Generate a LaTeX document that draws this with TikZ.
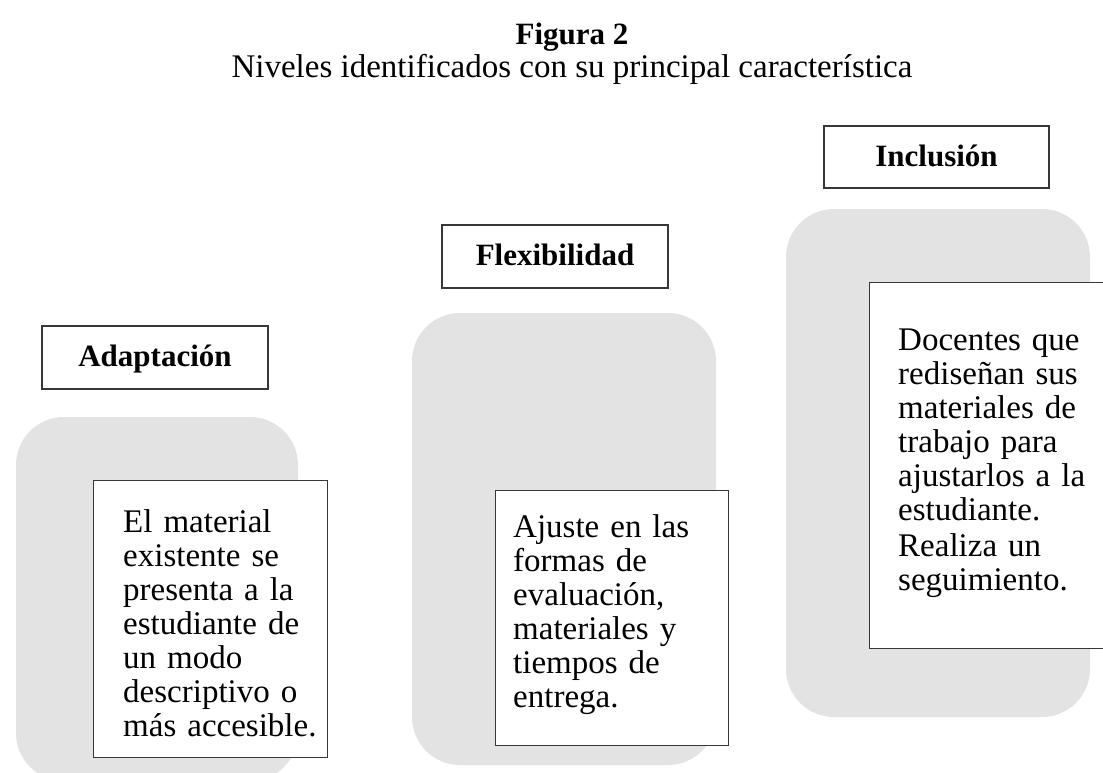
\documentclass[tikz,border=0pt]{standalone}
\usepackage{fontspec}
\setmainfont{Liberation Serif}
\definecolor{bg}{RGB}{227,227,227}
\definecolor{edge}{RGB}{55,55,55}
\begin{document}
\begin{tikzpicture}[x=1bp,y=-1bp,
  graybg/.style={fill=bg, rounded corners=48bp},
  labelbox/.style={draw=edge, line width=1.3bp, fill=white, inner sep=0pt,
    text height=23bp, text depth=5bp,
    font=\fontsize{31bp}{34bp}\selectfont\bfseries},
  whitebox/.style={draw=edge, line width=1.3bp, fill=white, anchor=north west, inner sep=0pt},
  bodytext/.style={anchor=base west, text width=215bp, align=left, inner sep=0pt,
    font=\fontsize{33bp}{34bp}\selectfont},
  titletext/.style={anchor=base, inner sep=0pt}
]
\useasboundingbox (0,0) rectangle (1103,773);
\clip (0,0) rectangle (1103,773);
\fill[white] (0,0) rectangle (1103,773);

% title
\node[titletext, font=\fontsize{31bp}{34bp}\selectfont\bfseries] (title) at (572,45) {Figura 2};
\node[titletext, font=\fontsize{33bp}{34bp}\selectfont] (subtitle) at (572,78) {Niveles identificados con su principal característica};

% gray backgrounds
\fill[graybg] (16,417) rectangle (298,781);
\fill[graybg] (412,313) rectangle (716,765);
\fill[graybg] (786,209) rectangle (1090,717);

% level labels
\node[labelbox, minimum width=226bp, minimum height=63bp] (adapt) at (155,357.5) {Adaptación};
\node[labelbox, minimum width=226bp, minimum height=63bp] (flex) at (555,256.5) {Flexibilidad};
\node[labelbox, minimum width=225bp, minimum height=62bp] (incl) at (936.5,157) {Inclusión};

% white description boxes
\node[whitebox, minimum width=234bp, minimum height=277bp] (w1) at (93,480) {};
\node[whitebox, minimum width=233bp, minimum height=255bp] (w2) at (495,490) {};
\node[whitebox, minimum width=250bp, minimum height=366bp] (w3) at (869,282) {};

% descriptions
\node[bodytext] (t1) at (123,532) {El material\\ existente se\\ presenta a la\\ estudiante de\\ un modo\\ descriptivo o\\ más accesible.};
\node[bodytext] (t2) at (513,537) {Ajuste en las\\ formas de\\ evaluación,\\ materiales y\\ tiempos de\\ entrega.};
\node[bodytext] (t3) at (898,350) {Docentes que\\ rediseñan sus\\ materiales de\\ trabajo para\\ ajustarlos a la\\ estudiante.\\[2bp] Realiza un\\ seguimiento.};
\end{tikzpicture}
\end{document}
